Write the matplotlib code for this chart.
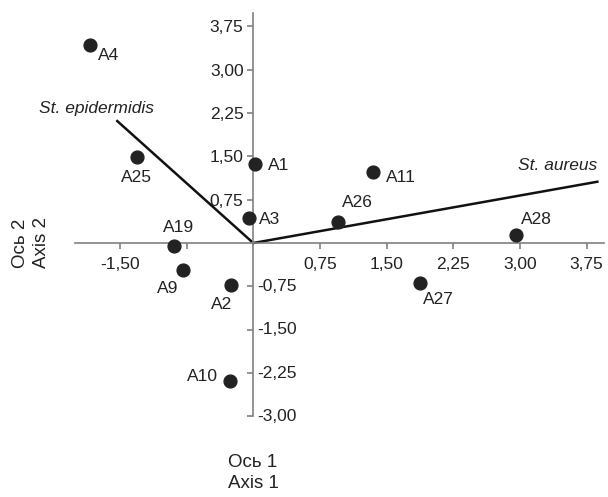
import matplotlib.pyplot as plt
import numpy as np

plt.rcParams['font.family'] = ['Liberation Sans Narrow', 'Liberation Sans', 'DejaVu Sans']

# samples (axis 1, axis 2)
names = ['A4', 'A25', 'A1', 'A3', 'A19', 'A9', 'A2', 'A10', 'A11', 'A26', 'A28', 'A27']
ax1 = [-1.84, -1.31, 0.02, -0.05, -0.89, -0.79, -0.25, -0.26, 1.35, 0.95, 2.95, 1.88]
ax2 = [3.43, 1.49, 1.37, 0.43, -0.05, -0.47, -0.73, -2.39, 1.23, 0.36, 0.14, -0.69]
# label offsets in points (dx, dy) and alignment
lab_off = [(6, -8), (0, -15), (9, -1), (7, -1), (3, 13), (-11, -13), (-7, -14), (-9, 3),
           (9, -4), (3, 14), (4, 11), (2, -12)]
lab_ha = ['left', 'center', 'left', 'left', 'center', 'center', 'center', 'right',
          'left', 'left', 'left', 'left']

# vectors
vec_names = ['St. epidermidis', 'St. aureus']
vec_x = [-1.53, 3.87]
vec_y = [2.11, 1.06]

xticks = [-1.5, -0.75, 0.75, 1.5, 2.25, 3.0, 3.75]
yticks = [-3.0, -2.25, -1.5, -0.75, 0.75, 1.5, 2.25, 3.0, 3.75]

def fmt(v):
    return ('%.2f' % v).replace('.', ',')

fig = plt.figure(figsize=(6.08, 4.97), dpi=100)
ax = fig.add_axes([0, 0, 1, 1])
ax.set_xlim(-2.849, 3.99)
ax.set_ylim(-4.394, 4.204)

for s in ['top', 'right']:
    ax.spines[s].set_visible(False)
ax.spines['left'].set_position(('data', 0))
ax.spines['bottom'].set_position(('data', 0))
ax.spines['left'].set_bounds(-3.0, 3.98)
ax.spines['bottom'].set_bounds(-2.0, 3.95)
for s in ['left', 'bottom']:
    ax.spines[s].set_color('#808080')
    ax.spines[s].set_linewidth(1.2)

ax.set_xticks(xticks)
ax.set_xticklabels(['' if v == -0.75 else fmt(v) for v in xticks])
ax.set_yticks(yticks)
ax.set_yticklabels([fmt(v) if v > 0 else '' for v in yticks])
ax.tick_params(axis='both', colors='#808080', length=4, width=1.2,
               labelsize=12.5, labelcolor='#222222')
ax.tick_params(axis='x', pad=6)
ax.tick_params(axis='y', pad=3)
# negative y tick labels sit right of the axis
for v in yticks:
    if v < 0:
        ax.annotate(fmt(v), (0, v), xytext=(3, 0), textcoords='offset points',
                    ha='left', va='center', fontsize=12.5, color='#222222')

for vx, vy in zip(vec_x, vec_y):
    ax.plot([0, vx], [0, vy], color='#111111', lw=1.8, zorder=2)
ax.annotate(vec_names[0], (vec_x[0], vec_y[0]), xytext=(-15, 9), textcoords='offset points',
            ha='center', va='center', fontsize=12.5, style='italic', color='#222222')
ax.annotate(vec_names[1], (vec_x[1], vec_y[1]), xytext=(0, 12), textcoords='offset points',
            ha='right', va='center', fontsize=12.5, style='italic', color='#222222')

ax.scatter(ax1, ax2, s=85, color='#222222', zorder=3)
for n, x, y, o, ha in zip(names, ax1, ax2, lab_off, lab_ha):
    ax.annotate(n, (x, y), xytext=o, textcoords='offset points', ha=ha, va='center',
                fontsize=12.5, color='#222222')

fig.text(253 / 608, 1 - 473 / 497, 'Ось 1\nAxis 1', ha='center', va='center',
         fontsize=13.5, color='#222222', linespacing=1.35)
fig.text(31 / 608, 1 - 243 / 497, 'Ось 2\nAxis 2', ha='center', va='center',
         rotation=90, fontsize=13.5, color='#222222', linespacing=1.35)

fig.savefig('out.png', dpi=100)
